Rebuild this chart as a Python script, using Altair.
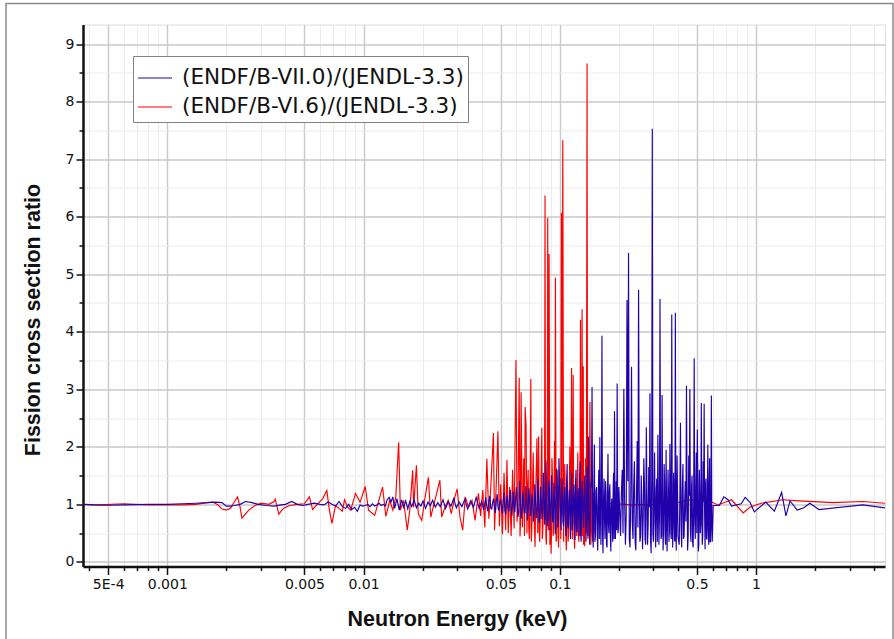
import altair as alt
import pandas as pd

# ---------------- data ----------------
BLUE_LABEL = "(ENDF/B-VII.0)/(JENDL-3.3)"
RED_LABEL = "(ENDF/B-VI.6)/(JENDL-3.3)"

# Blue: (ENDF/B-VII.0)/(JENDL-3.3)
blue_a_e = [0.000372, 0.00042, 0.0005, 0.0006, 0.0007, 0.0008, 0.001, 0.0012, 0.0014, 0.0016,
            0.00175, 0.0019, 0.002, 0.0021, 0.0022, 0.00235, 0.0025, 0.0027, 0.0029, 0.0032,
            0.0035, 0.0038, 0.004, 0.0043, 0.0046, 0.0049, 0.0052, 0.0056, 0.006, 0.0063,
            0.0066, 0.0069, 0.0072, 0.0075, 0.0078, 0.0081, 0.0084, 0.0087, 0.009, 0.0093,
            0.0096, 0.0099]
blue_a_r = [1.00, 0.99, 0.985, 0.99, 0.995, 1.00, 1.00, 1.01, 1.02, 1.03,
            1.04, 1.03, 0.97, 0.97, 0.98, 1.00, 1.05, 1.03, 1.00, 0.98,
            0.97, 0.99, 1.00, 1.05, 1.00, 0.98, 1.00, 1.02, 1.00, 0.99,
            1.04, 1.00, 0.97, 1.05, 0.96, 0.93, 1.00, 0.91, 0.95, 0.88,
            0.99, 0.97]

blue_b1_e = [0.0102, 0.0105, 0.0108, 0.0111, 0.0114, 0.0117, 0.0120, 0.0123, 0.0126, 0.0129,
             0.0132, 0.0135, 0.0138, 0.0141, 0.0144, 0.0148, 0.0152, 0.0156, 0.0160, 0.0164,
             0.0168, 0.0172, 0.0176, 0.0181, 0.0186, 0.0191, 0.0196, 0.0201, 0.0207, 0.0213,
             0.0219, 0.0225, 0.0232, 0.0239, 0.0246, 0.0254, 0.0262, 0.0270, 0.0279, 0.0288,
             0.0297, 0.0307, 0.0317, 0.0328, 0.0339, 0.0351, 0.0363, 0.0375, 0.0388, 0.0400]
blue_b1_r = [0.98, 1.00, 0.96, 1.01, 0.97, 0.99, 1.02, 0.98, 1.00, 0.97,
             1.08, 1.12, 1.04, 1.13, 0.93, 1.10, 0.90, 1.08, 0.95, 1.06,
             0.92, 1.05, 0.96, 1.08, 0.94, 1.02, 0.97, 1.06, 0.93, 1.04,
             0.98, 1.07, 0.95, 1.03, 0.96, 1.08, 0.93, 1.05, 0.97, 1.10,
             0.94, 1.04, 0.96, 1.09, 0.92, 1.06, 0.95, 1.12, 0.93, 1.05]

blue_b2_e = [0.0410, 0.0420, 0.0430, 0.0440, 0.0450, 0.0460, 0.0470, 0.0480, 0.0490, 0.0500,
             0.0510, 0.0520, 0.0530, 0.0540, 0.0550, 0.0560, 0.0570, 0.0580, 0.0590, 0.0600,
             0.0612, 0.0624, 0.0636, 0.0648, 0.0660, 0.0672, 0.0684, 0.0696, 0.0708, 0.0720,
             0.0733, 0.0746, 0.0759, 0.0772, 0.0785, 0.0798, 0.0811, 0.0824, 0.0837, 0.0850,
             0.0864, 0.0878, 0.0892, 0.0906, 0.0920, 0.0934, 0.0948, 0.0962, 0.0976, 0.0990]
blue_b2_r = [0.90, 1.12, 0.88, 1.15, 0.92, 1.10, 0.85, 1.18, 0.90, 1.08,
             0.84, 1.20, 0.82, 1.16, 0.88, 1.25, 0.80, 1.22, 0.86, 1.30,
             0.78, 1.40, 0.75, 1.20, 0.85, 1.32, 0.72, 1.28, 0.80, 1.18,
             0.70, 1.35, 0.76, 1.45, 0.68, 1.30, 0.74, 1.55, 0.65, 1.76,
             0.62, 1.40, 0.55, 1.50, 0.70, 1.38, 0.48, 1.62, 0.60, 1.80]
blue_b2m_e = [0.0415, 0.0425, 0.0435, 0.0445, 0.0455, 0.0465, 0.0475, 0.0485, 0.0495, 0.0505,
              0.0515, 0.0525, 0.0535, 0.0545, 0.0555, 0.0565, 0.0575, 0.0585, 0.0595,
              0.0606, 0.0618, 0.0630, 0.0642, 0.0654, 0.0666, 0.0678, 0.0690, 0.0702, 0.0714,
              0.0727, 0.0740, 0.0753, 0.0766, 0.0779, 0.0792, 0.0805, 0.0818, 0.0831, 0.0844,
              0.0857, 0.0871, 0.0885, 0.0899, 0.0913, 0.0927, 0.0941, 0.0955, 0.0969, 0.0983]
blue_b2m_r = [1.02, 0.95, 1.05, 0.93, 1.04, 0.96, 1.06, 0.92, 1.03, 0.97,
              1.08, 0.90, 1.05, 0.94, 1.10, 0.92, 1.04, 0.97, 1.08,
              1.05, 0.88, 1.12, 0.90, 1.02, 0.85, 1.10, 0.95, 1.06, 0.88,
              1.10, 0.82, 1.05, 0.90, 1.15, 0.78, 1.08, 0.92, 1.20, 0.80,
              1.12, 0.75, 1.25, 0.85, 1.05, 0.70, 1.18, 0.88, 1.30, 0.72]

blue_c1_e = [0.1015, 0.1030, 0.1045, 0.1060, 0.1075, 0.1090, 0.1105, 0.1120, 0.1135, 0.1150,
             0.1165, 0.1180, 0.1195, 0.1210, 0.1225, 0.1240, 0.1255, 0.1270, 0.1285, 0.1300]
blue_c1_r = [0.55, 1.45, 0.62, 1.30, 0.45, 1.70, 0.58, 1.25, 0.40, 1.55,
             0.70, 1.35, 0.38, 1.60, 0.52, 1.28, 0.45, 1.75, 0.35, 1.40]
blue_c1m_e = [0.1022, 0.1037, 0.1052, 0.1067, 0.1082, 0.1097, 0.1112, 0.1127, 0.1142, 0.1157,
              0.1172, 0.1187, 0.1202, 0.1217, 0.1232, 0.1247, 0.1262, 0.1277, 0.1292]
blue_c1m_r = [1.20, 0.70, 1.10, 0.80, 1.35, 0.65, 1.05, 0.75, 1.25, 0.55,
              1.15, 0.85, 1.30, 0.60, 1.10, 0.90, 1.40, 0.50, 1.05]

blue_c2_e = [0.132, 0.134, 0.136, 0.138, 0.140, 0.142, 0.144, 0.146, 0.148, 0.150,
             0.152, 0.154, 0.156, 0.158, 0.160, 0.162, 0.164, 0.166, 0.168, 0.170,
             0.172, 0.174, 0.176, 0.178, 0.180, 0.182, 0.184, 0.186, 0.188, 0.190,
             0.192, 0.194, 0.196, 0.198, 0.200]
blue_c2_r = [0.60, 1.50, 0.35, 1.65, 2.18, 0.30, 1.40, 3.04, 0.25, 2.04,
             0.45, 1.30, 0.20, 1.60, 2.17, 0.30, 3.93, 0.15, 1.45, 0.40,
             1.20, 0.25, 1.88, 0.50, 1.35, 0.18, 1.10, 0.35, 1.55, 2.62,
             0.40, 1.40, 3.10, 0.50, 1.30]
blue_c2m_e = [0.133, 0.135, 0.137, 0.139, 0.141, 0.143, 0.145, 0.147, 0.149, 0.151,
              0.153, 0.155, 0.157, 0.159, 0.161, 0.163, 0.165, 0.167, 0.169, 0.171,
              0.173, 0.175, 0.177, 0.179, 0.181, 0.183, 0.185, 0.187, 0.189, 0.191,
              0.193, 0.195, 0.197, 0.199]
blue_c2m_r = [1.10, 0.80, 1.20, 0.45, 1.00, 0.70, 1.30, 0.55, 1.15, 0.35,
              1.25, 0.60, 1.05, 0.40, 0.90, 1.35, 0.50, 1.00, 0.75, 1.40,
              0.30, 1.15, 0.65, 1.20, 0.45, 0.95, 0.70, 1.25, 0.40, 1.10,
              0.85, 0.55, 1.30, 0.60]

blue_c3_e = [0.204, 0.208, 0.212, 0.216, 0.220, 0.224, 0.228, 0.232, 0.236, 0.240,
             0.244, 0.248, 0.252, 0.256, 0.260, 0.264, 0.268, 0.272, 0.276, 0.280,
             0.284, 0.288, 0.292, 0.296, 0.300, 0.304, 0.308, 0.312, 0.316, 0.320,
             0.324, 0.328, 0.332, 0.336, 0.340, 0.344, 0.348, 0.352, 0.356, 0.360,
             0.364, 0.368, 0.372, 0.376, 0.380, 0.384, 0.388, 0.392, 0.396, 0.400]
blue_c3_r = [0.45, 1.60, 3.01, 0.30, 4.55, 5.37, 0.25, 3.39, 0.40, 1.75,
             0.20, 2.10, 4.73, 0.35, 1.50, 0.22, 1.80, 0.40, 2.34, 0.30,
             1.65, 2.93, 0.15, 7.53, 0.35, 1.90, 0.25, 1.45, 2.21, 0.30,
             4.57, 0.40, 2.90, 0.20, 1.70, 0.45, 1.95, 0.18, 1.60, 0.35,
             2.05, 0.50, 4.30, 0.25, 1.55, 0.40, 4.33, 0.20, 1.85, 0.45]
blue_c3m_e = [0.206, 0.210, 0.214, 0.218, 0.222, 0.226, 0.230, 0.234, 0.238, 0.242,
              0.246, 0.250, 0.254, 0.258, 0.262, 0.266, 0.270, 0.274, 0.278, 0.282,
              0.286, 0.290, 0.294, 0.298, 0.302, 0.306, 0.310, 0.314, 0.318, 0.322,
              0.326, 0.330, 0.334, 0.338, 0.342, 0.346, 0.350, 0.354, 0.358, 0.362,
              0.366, 0.370, 0.374, 0.378, 0.382, 0.386, 0.390, 0.394, 0.398]
blue_c3m_r = [1.20, 0.50, 1.05, 0.80, 1.40, 0.40, 1.15, 0.70, 1.30, 0.35,
              1.10, 0.60, 1.25, 0.45, 1.00, 0.75, 1.35, 0.30, 1.20, 0.65,
              0.95, 0.40, 1.45, 0.50, 1.10, 0.70, 1.25, 0.35, 1.05, 0.80,
              1.30, 0.45, 1.15, 0.60, 1.40, 0.30, 1.00, 0.75, 1.20, 0.55,
              1.35, 0.40, 1.10, 0.65, 1.25, 0.35, 1.05, 0.80, 1.15]

blue_c4_e = [0.406, 0.412, 0.418, 0.424, 0.430, 0.436, 0.442, 0.448, 0.454, 0.460,
             0.466, 0.472, 0.478, 0.484, 0.490, 0.496, 0.502, 0.508, 0.514, 0.520,
             0.526, 0.532, 0.538, 0.544, 0.550, 0.556, 0.562, 0.568, 0.574, 0.580,
             0.586, 0.592, 0.598]
blue_c4_r = [0.30, 2.42, 0.25, 1.70, 0.45, 1.40, 3.06, 0.20, 1.85, 3.00,
             0.35, 1.50, 0.25, 3.54, 0.40, 1.90, 2.30, 0.18, 1.60, 0.50,
             2.76, 0.30, 1.75, 2.75, 0.22, 1.45, 0.40, 2.04, 0.30, 1.80,
             0.35, 2.89, 0.35]
blue_c4m_e = [0.409, 0.415, 0.421, 0.427, 0.433, 0.439, 0.445, 0.451, 0.457, 0.463,
              0.469, 0.475, 0.481, 0.487, 0.493, 0.499, 0.505, 0.511, 0.517, 0.523,
              0.529, 0.535, 0.541, 0.547, 0.553, 0.559, 0.565, 0.571, 0.577, 0.583,
              0.589, 0.595]
blue_c4m_r = [1.10, 0.60, 1.25, 0.40, 1.05, 0.70, 1.35, 0.45, 1.15, 0.55,
              1.30, 0.35, 1.00, 0.75, 1.20, 0.50, 1.40, 0.30, 1.10, 0.65,
              1.25, 0.45, 1.05, 0.80, 1.35, 0.40, 1.15, 0.55, 1.30, 0.35,
              1.10, 0.60]

blue_d_e = [0.605, 0.65, 0.685, 0.72, 0.75, 0.84, 0.88, 0.93, 0.98, 1.12,
            1.24, 1.35, 1.42, 1.49, 1.62, 1.75, 1.88, 2.09, 3.5, 4.54]
blue_d_r = [0.98, 0.98, 1.13, 1.08, 0.97, 1.01, 1.12, 1.04, 0.87, 1.04,
            0.88, 1.21, 0.80, 1.06, 0.90, 0.94, 1.02, 0.91, 0.99, 0.94]

# Red: (ENDF/B-VI.6)/(JENDL-3.3)
red_a_e = [0.000372, 0.00045, 0.0006, 0.0008, 0.001, 0.0012, 0.0014, 0.0016, 0.0017, 0.0018,
           0.0019, 0.002, 0.0021, 0.0022, 0.00228, 0.00235, 0.0024, 0.0026, 0.0028, 0.003,
           0.0033, 0.0035, 0.00355, 0.0037, 0.0039, 0.0042, 0.0046, 0.005, 0.0053, 0.0055,
           0.0058, 0.0062, 0.0065, 0.0067, 0.0069, 0.0072, 0.0075, 0.0078, 0.0080, 0.0083,
           0.0086]
red_a_r = [1.00, 0.99, 1.01, 0.99, 0.99, 0.99, 1.00, 1.03, 1.04, 1.00,
           0.92, 0.90, 0.93, 1.05, 1.13, 0.95, 0.76, 0.90, 0.98, 1.02,
           1.00, 1.05, 1.09, 0.83, 0.93, 0.98, 1.00, 1.01, 1.13, 0.91,
           1.00, 1.10, 1.24, 0.90, 0.67, 0.98, 0.93, 0.88, 1.08, 0.95,
           0.90]

red_b_e = [0.0091, 0.0096, 0.0102, 0.0106, 0.0114, 0.0125, 0.0130, 0.0136, 0.0141, 0.0146,
           0.0151, 0.0154, 0.0160, 0.0167, 0.0172, 0.0178, 0.0180, 0.0186, 0.0190, 0.0198,
           0.0206, 0.0214, 0.0220, 0.0231, 0.0245, 0.0250, 0.0260, 0.0270, 0.0280, 0.0292,
           0.0300, 0.0310, 0.0320, 0.0330, 0.0343, 0.0357, 0.0370, 0.0385]
red_b_r = [1.19, 1.04, 1.31, 0.90, 0.81, 1.30, 0.79, 1.07, 0.90, 1.13,
           2.08, 0.90, 1.07, 0.55, 0.90, 1.59, 0.95, 1.68, 0.84, 0.72,
           1.13, 1.47, 0.78, 1.07, 1.42, 0.78, 0.95, 1.07, 0.84, 1.13,
           1.27, 0.78, 0.55, 1.13, 0.95, 1.07, 0.72, 1.19]

red_c1_e = [0.0395, 0.0405, 0.0415, 0.0425, 0.0435, 0.0445, 0.0459, 0.0465, 0.0475, 0.0484,
            0.0492, 0.0500, 0.0510, 0.0520, 0.0530, 0.0538, 0.0546, 0.0555, 0.0565, 0.0575,
            0.0585, 0.0598]
red_c1_r = [0.80, 1.25, 0.60, 1.79, 0.75, 1.30, 2.24, 0.55, 1.40, 2.27,
            0.62, 1.35, 0.48, 1.55, 0.55, 1.77, 0.50, 1.30, 0.45, 1.60,
            0.58, 3.51]

red_c2_e = [0.0606, 0.0621, 0.0627, 0.0635, 0.0645, 0.0655, 0.0666, 0.0673, 0.0680, 0.0690,
            0.0700, 0.0712, 0.0720, 0.0732, 0.0748, 0.0765, 0.0772, 0.0780, 0.0790, 0.0810,
            0.0820, 0.0830, 0.0841, 0.0850, 0.0860, 0.0868, 0.0875, 0.0882, 0.0890, 0.0903,
            0.0912, 0.0925, 0.0940, 0.0950, 0.0958, 0.0970, 0.0985, 0.1000, 0.1012, 0.1019,
            0.1026, 0.1036, 0.1045]
red_c2_r = [0.70, 3.20, 0.44, 2.95, 0.60, 1.80, 2.69, 2.36, 0.50, 1.60,
            0.40, 3.18, 0.55, 1.90, 0.26, 2.15, 0.50, 2.18, 0.35, 2.33,
            0.60, 1.50, 6.37, 0.40, 1.20, 5.98, 0.55, 5.35, 0.30, 0.14,
            1.80, 0.45, 2.10, 4.94, 0.35, 1.60, 0.25, 1.45, 0.40, 6.07,
            0.80, 7.33, 0.35]
red_c2m_e = [0.0613, 0.0631, 0.0650, 0.0661, 0.0685, 0.0695, 0.0706, 0.0716, 0.0726, 0.0740,
             0.0756, 0.0785, 0.0800, 0.0815, 0.0825, 0.0836, 0.0845, 0.0855, 0.0864, 0.0896,
             0.0907, 0.0918, 0.0932, 0.0945, 0.0964, 0.0978, 0.0992, 0.1006]
red_c2m_r = [1.20, 0.70, 1.10, 0.45, 1.30, 0.60, 1.05, 0.35, 1.25, 0.80,
             1.40, 0.55, 1.15, 0.40, 1.00, 0.65, 1.35, 0.30, 1.10, 0.90,
             0.50, 1.45, 0.60, 1.20, 0.40, 1.00, 0.75, 1.30]

red_c3_e = [0.1060, 0.1080, 0.1095, 0.1110, 0.1125, 0.1148, 0.1160, 0.1170, 0.1180, 0.1190,
            0.1205, 0.1220, 0.1235, 0.1250, 0.1262, 0.1275, 0.1285, 0.1299, 0.1308, 0.1317,
            0.1328, 0.1340, 0.1352, 0.1365, 0.1377, 0.1390, 0.1405, 0.1424, 0.1440, 0.1455,
            0.1470, 0.1490, 0.1510, 0.1530, 0.1560, 0.1600]
red_c3_r = [1.70, 0.20, 1.30, 0.50, 2.00, 3.37, 0.40, 3.25, 0.60, 0.23,
            1.45, 0.45, 1.90, 0.35, 1.55, 4.21, 0.50, 4.39, 0.45, 3.40,
            0.60, 0.27, 1.80, 0.50, 8.66, 0.40, 1.60, 2.78, 0.30, 1.40,
            0.35, 1.20, 0.50, 0.91, 0.95, 1.00]
red_c3m_e = [0.1070, 0.1088, 0.1102, 0.1118, 0.1137, 0.1154, 0.1175, 0.1185, 0.1198, 0.1212,
             0.1228, 0.1242, 0.1256, 0.1268, 0.1280, 0.1292, 0.1312, 0.1322, 0.1334, 0.1346,
             0.1358, 0.1384, 0.1397, 0.1414, 0.1432, 0.1448, 0.1462, 0.1480, 0.1500, 0.1520]
red_c3m_r = [0.60, 1.40, 0.35, 1.20, 0.55, 1.10, 1.30, 0.40, 1.00, 0.70,
             1.25, 0.50, 0.85, 1.35, 0.45, 1.15, 1.05, 0.30, 1.20, 0.65,
             1.10, 1.30, 0.45, 0.90, 1.15, 0.55, 0.80, 0.60, 1.05, 0.70]

red_e_e = [0.186, 0.228, 0.310, 0.410, 0.460, 0.550, 0.593, 0.640, 0.750, 0.860,
           0.930, 1.060, 1.370, 1.660, 2.460, 3.500, 4.540]
red_e_r = [1.02, 0.99, 1.00, 1.04, 1.08, 1.03, 1.04, 0.99, 1.08, 0.85,
           0.95, 1.02, 1.08, 1.06, 1.03, 1.05, 1.02]

# axis tick positions / labels
x_tick_values = [0.0004, 0.0005, 0.0006, 0.0007, 0.0008, 0.0009,
                 0.001, 0.002, 0.003, 0.004, 0.005, 0.006, 0.007, 0.008, 0.009,
                 0.01, 0.02, 0.03, 0.04, 0.05, 0.06, 0.07, 0.08, 0.09,
                 0.1, 0.2, 0.3, 0.4, 0.5, 0.6, 0.7, 0.8, 0.9,
                 1, 2, 3, 4]
y_tick_values = [0, 0.5, 1, 1.5, 2, 2.5, 3, 3.5, 4, 4.5, 5, 5.5, 6, 6.5,
                 7, 7.5, 8, 8.5, 9]
x_domain = [0.000372, 4.54]
y_domain = [-0.08, 9.34]

# ---------------- build tables ----------------
blue_parts = [(blue_a_e, blue_a_r), (blue_b1_e, blue_b1_r), (blue_b2_e, blue_b2_r),
              (blue_b2m_e, blue_b2m_r), (blue_c1_e, blue_c1_r), (blue_c1m_e, blue_c1m_r),
              (blue_c2_e, blue_c2_r), (blue_c2m_e, blue_c2m_r), (blue_c3_e, blue_c3_r),
              (blue_c3m_e, blue_c3m_r), (blue_c4_e, blue_c4_r), (blue_c4m_e, blue_c4m_r),
              (blue_d_e, blue_d_r)]
red_parts = [(red_a_e, red_a_r), (red_b_e, red_b_r), (red_c1_e, red_c1_r),
             (red_c2_e, red_c2_r), (red_c2m_e, red_c2m_r), (red_c3_e, red_c3_r),
             (red_c3m_e, red_c3m_r), (red_e_e, red_e_r)]


def build(parts, label):
    frames = []
    for e, r in parts:
        assert len(e) == len(r), (label, len(e), len(r))
        frames.append(pd.DataFrame({"energy": e, "ratio": r}))
    df = pd.concat(frames, ignore_index=True).sort_values("energy").reset_index(drop=True)
    df["series"] = label
    return df


blue_df = build(blue_parts, BLUE_LABEL)
red_df = build(red_parts, RED_LABEL)

MANT_X = "(datum.value / pow(10, floor(log(datum.value) / LN10 + 1e-6)))"
MAJOR_X = f"(abs({MANT_X} - 1) < 0.01 || abs({MANT_X} - 5) < 0.01)"
MAJOR_Y = "(abs(datum.value - round(datum.value)) < 0.01)"

x_axis = alt.Axis(
    values=x_tick_values,
    labelExpr=f"{MAJOR_X} ? (datum.value < 0.0006 ? '5E-4' : format(datum.value, '~g')) : ''",
    labelOverlap=False, labelFlush=False,
    labelFont="DejaVu Sans", labelFontSize=14, labelColor="#111", labelPadding=3,
    tickColor="#111", tickWidth=1.5,
    tickSize={"condition": {"test": MAJOR_X, "value": 8}, "value": 4},
    gridColor={"condition": {"test": MAJOR_X, "value": "#c9c9c9"}, "value": "#ececec"},
    gridWidth={"condition": {"test": MAJOR_X, "value": 1.4}, "value": 1},
    domainColor="#111", domainWidth=2.5,
    title="Neutron Energy (keV)", titleFont="Liberation Sans", titleFontSize=21.5,
    titleFontWeight="bold", titleColor="#111", titlePadding=17,
    titleX=374, titleAlign="center",
)
y_axis = alt.Axis(
    values=y_tick_values,
    labelExpr=f"{MAJOR_Y} ? format(datum.value, 'd') : ''",
    labelOverlap=False, labelFlush=False,
    labelFont="DejaVu Sans", labelFontSize=14, labelColor="#111", labelPadding=2,
    tickColor="#111", tickWidth=1.5,
    tickSize={"condition": {"test": MAJOR_Y, "value": 7}, "value": 4},
    gridColor={"condition": {"test": MAJOR_Y, "value": "#c9c9c9"}, "value": "#ececec"},
    gridWidth={"condition": {"test": MAJOR_Y, "value": 1.6}, "value": 1},
    domainColor="#111", domainWidth=2.5,
    title="Fission cross section ratio", titleFont="Liberation Sans", titleFontSize=21.5,
    titleFontWeight="bold", titleColor="#111", titlePadding=21,
    titleY=295, titleAlign="center",
)

color = alt.Color(
    "series:N",
    scale=alt.Scale(domain=[BLUE_LABEL, RED_LABEL], range=["#2100ab", "#ff0000"]),
    legend=alt.Legend(
        title=None, orient="none", legendX=50, legendY=31.5,
        fillColor="white", strokeColor="#808080", padding=4,
        symbolType="stroke", symbolSize=1156, symbolStrokeWidth=1.2,
        labelFont="DejaVu Sans", labelFontSize=21.5, labelColor="#111",
        labelOffset=9, labelLimit=500, rowPadding=-10,
    ),
)

x_enc = alt.X("energy:Q", scale=alt.Scale(type="log", domain=x_domain, nice=False), axis=x_axis)
y_enc = alt.Y("ratio:Q", scale=alt.Scale(domain=y_domain, nice=False, zero=False), axis=y_axis)

red_line = alt.Chart(red_df).mark_line(strokeWidth=1.15, clip=True).encode(
    x=x_enc, y=y_enc, color=color)
blue_line = alt.Chart(blue_df).mark_line(strokeWidth=1.15, clip=True).encode(
    x=x_enc, y=y_enc, color=color)

frame_df = pd.DataFrame({"k": [0]})
outer_frame = alt.Chart(frame_df).mark_rect(filled=False, stroke="#8a8a8a", strokeWidth=1.5, clip=False).encode(
    x=alt.value(-77), x2=alt.value(810), y=alt.value(-21), y2=alt.value(640))

chart = alt.layer(red_line, blue_line, outer_frame).properties(
    width=802, height=542,
    autosize=alt.AutoSizeParams(type="none"),
    padding={"left": 83, "top": 24.5, "right": 9, "bottom": 72.5},
).configure_view(stroke="#222", strokeWidth=1.5).configure(background="white")

chart.save("out.html", embed_options={"renderer": "svg", "actions": False})
